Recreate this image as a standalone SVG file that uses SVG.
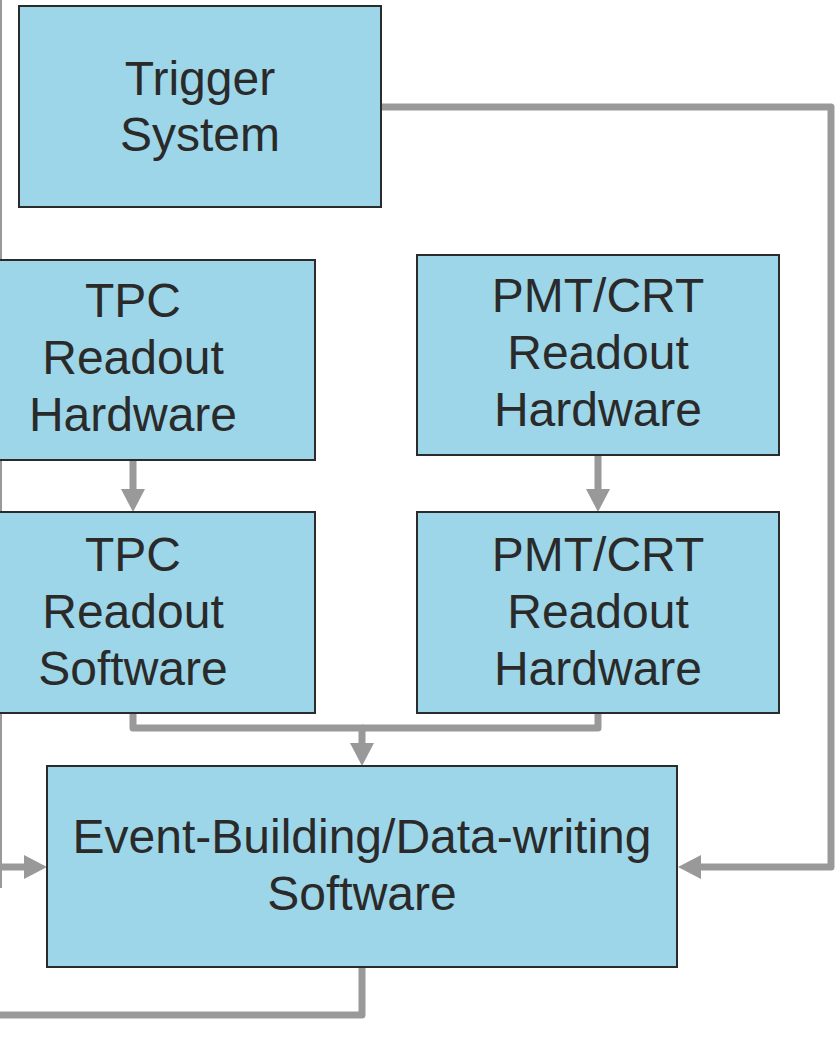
<svg xmlns="http://www.w3.org/2000/svg" width="838" height="1041" viewBox="0 0 838 1041">
<style>
.box{fill:#9dd6e8;stroke:#2b2b2b;stroke-width:2}
.lbl{font-family:"Liberation Sans",Arial,sans-serif;font-size:48px;fill:#2a2a2a;text-anchor:middle}
.con{fill:none;stroke:#999999;stroke-width:7;stroke-linejoin:round}
.thin{fill:none;stroke:#999999;stroke-width:2}
</style>
<defs>
<marker id="ah" markerUnits="userSpaceOnUse" markerWidth="24" markerHeight="25" refX="0" refY="12" orient="auto" overflow="visible">
<path d="M0,0 L23,12 L0,24 z" fill="#999999"/>
</marker>
</defs>
<rect width="838" height="1041" fill="#ffffff"/>
<g id="connectors">
<path class="thin" d="M1,0 V888"/>
<path class="con" d="M381,107 H831 V867 H701" marker-end="url(#ah)"/>
<path class="con" d="M133,460 V489" marker-end="url(#ah)"/>
<path class="con" d="M598,455 V489" marker-end="url(#ah)"/>
<path class="con" d="M133,713 V728 H362 V743" marker-end="url(#ah)"/>
<path class="con" d="M598,713 V728 H362"/>
<path class="con" d="M0,867 H24" marker-end="url(#ah)"/>
<path class="con" d="M362,967 V1015 H0"/>
</g>
<g id="trigger">
<rect class="box" x="19" y="6" width="362" height="201"/>
<text class="lbl" x="200" y="95">Trigger</text>
<text class="lbl" x="200" y="151">System</text>
</g>
<g id="tpc-hw">
<rect class="box" x="-60" y="260" width="375" height="200"/>
<text class="lbl" x="133" y="317">TPC</text>
<text class="lbl" x="133" y="374">Readout</text>
<text class="lbl" x="133" y="431">Hardware</text>
</g>
<g id="tpc-sw">
<rect class="box" x="-60" y="512" width="375" height="201"/>
<text class="lbl" x="133" y="571">TPC</text>
<text class="lbl" x="133" y="628">Readout</text>
<text class="lbl" x="133" y="685">Software</text>
</g>
<g id="pmt-hw">
<rect class="box" x="417" y="255" width="362" height="200"/>
<text class="lbl" x="598" y="312">PMT/CRT</text>
<text class="lbl" x="598" y="369">Readout</text>
<text class="lbl" x="598" y="426">Hardware</text>
</g>
<g id="pmt-hw2">
<rect class="box" x="417" y="512" width="362" height="201"/>
<text class="lbl" x="598" y="571">PMT/CRT</text>
<text class="lbl" x="598" y="628">Readout</text>
<text class="lbl" x="598" y="685">Hardware</text>
</g>
<g id="event">
<rect class="box" x="47" y="766" width="630" height="201"/>
<text class="lbl" x="362" y="853">Event-Building/Data-writing</text>
<text class="lbl" x="362" y="910">Software</text>
</g>
</svg>
